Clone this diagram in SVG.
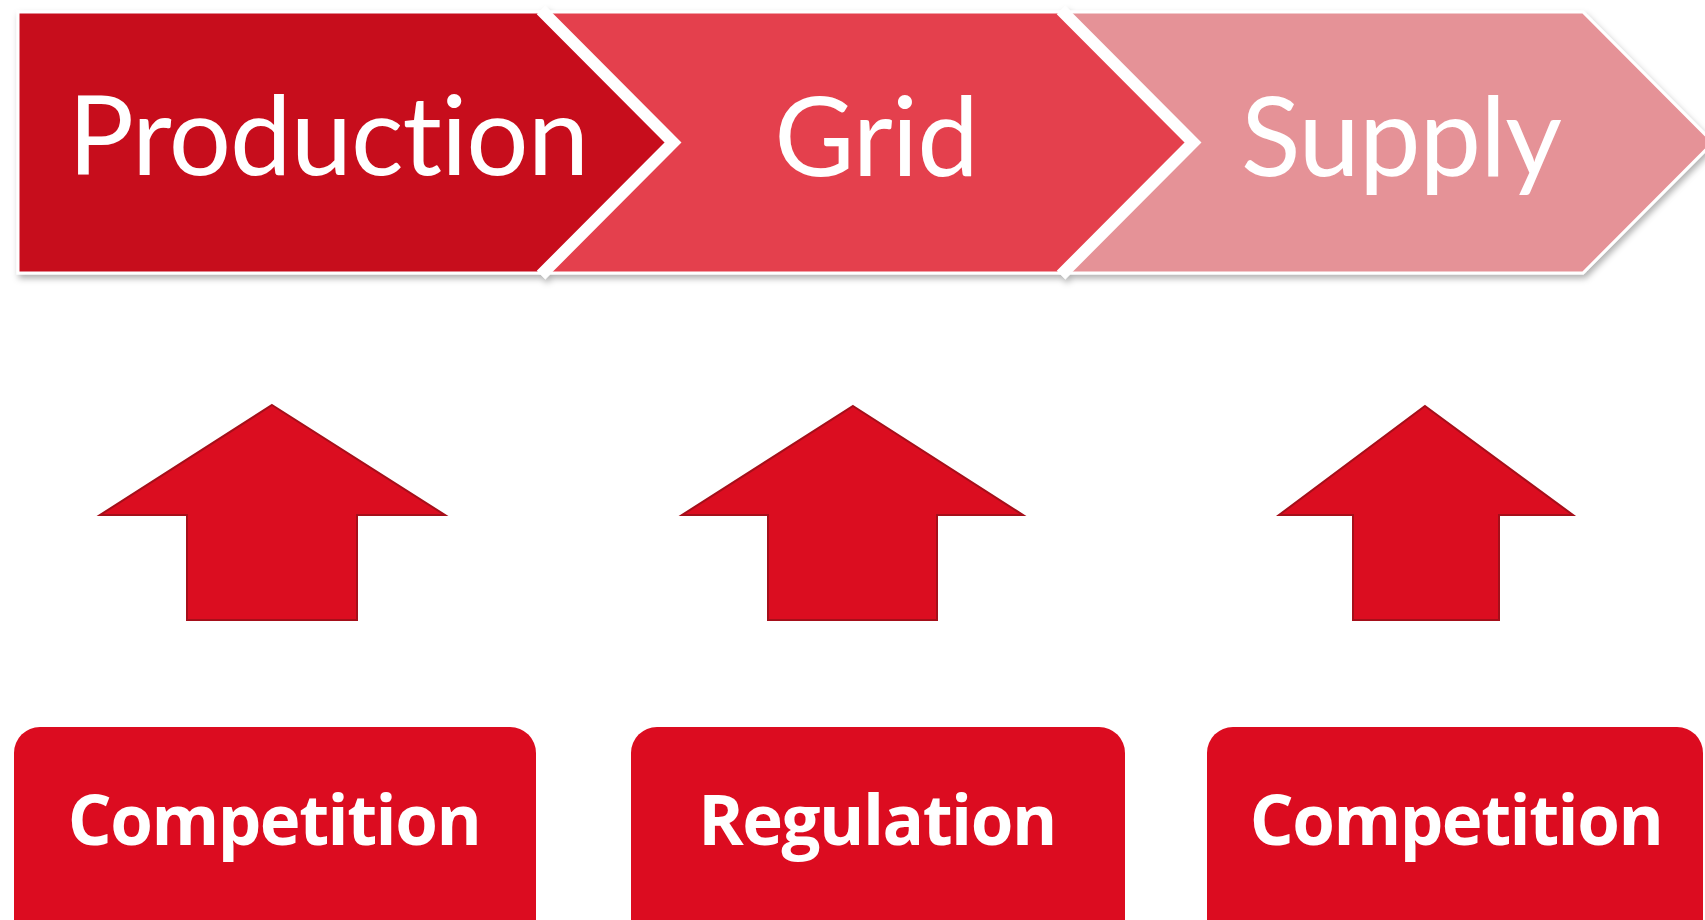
<svg xmlns="http://www.w3.org/2000/svg" width="1705" height="920" viewBox="0 0 1705 920">
  <defs>
    <style>
      .stage { stroke: #ffffff; stroke-width: 3; stroke-linejoin: miter; }
      .divider { fill: none; stroke: #ffffff; stroke-width: 12; stroke-linejoin: miter; stroke-linecap: butt; }
      .stage-label { font-family: Lato, "Open Sans", "Liberation Sans", sans-serif; font-size: 110px; font-weight: 400; fill: #ffffff; text-anchor: middle; letter-spacing: -1px; }
      .mode-box { fill: #dc0c20; }
      .mode-label { font-family: "Open Sans", "Noto Sans", "Liberation Sans", sans-serif; font-size: 69px; font-weight: 700; fill: #ffffff; text-anchor: middle; letter-spacing: -1.5px; }
      .up-arrow { fill: #db0d20; stroke: #a50f1a; stroke-width: 2; stroke-linejoin: miter; }
    </style>
    <filter id="soft-shadow" x="-5%" y="-10%" width="110%" height="130%">
      <feDropShadow dx="2" dy="4" stdDeviation="3" flood-color="#000000" flood-opacity="0.3"/>
    </filter>
  </defs>

  <rect width="1705" height="920" fill="#ffffff"/>

  <!-- value chain: three chevrons with white dividers between them -->
  <g filter="url(#soft-shadow)">
    <g id="stage-supply">
      <polygon class="stage" fill="#e59297" points="1063,12 1583,12 1713,142.5 1583,273 1063,273 1193,142.5"/>
    </g>
    <g id="stage-grid">
      <polygon class="stage" fill="#e4404d" points="543,12 1063,12 1193,142.5 1063,273 543,273 673,142.5"/>
    </g>
    <g id="stage-production">
      <polygon class="stage" fill="#c70a1e" points="18,12 543,12 673,142.5 543,273 18,273"/>
    </g>
    <polyline class="divider" points="541,10 673,142.5 541,275"/>
    <polyline class="divider" points="1061,10 1193,142.5 1061,275"/>
  </g>
  <text class="stage-label" x="328" y="175">Production</text>
  <text class="stage-label" x="876" y="176">Grid</text>
  <text class="stage-label" x="1401" y="176">Supply</text>

  <!-- block arrows pointing from each market mode up to its stage -->
  <g id="connectors">
    <polygon class="up-arrow" points="272,405 445,515 357,515 357,620 187,620 187,515 100,515"/>
    <polygon class="up-arrow" points="853,406 1023,515 937,515 937,620 768,620 768,515 682,515"/>
    <polygon class="up-arrow" points="1425,406 1573,515 1499,515 1499,620 1353,620 1353,515 1279,515"/>
  </g>

  <!-- market modes -->
  <g id="mode-production">
    <rect class="mode-box" x="14" y="727" width="522" height="240" rx="26" ry="26"/>
    <text class="mode-label" x="274" y="845">Competition</text>
  </g>
  <g id="mode-grid">
    <rect class="mode-box" x="631" y="727" width="494" height="240" rx="26" ry="26"/>
    <text class="mode-label" x="877" y="845">Regulation</text>
  </g>
  <g id="mode-supply">
    <rect class="mode-box" x="1207" y="727" width="496" height="240" rx="26" ry="26"/>
    <text class="mode-label" x="1456" y="845">Competition</text>
  </g>
</svg>
